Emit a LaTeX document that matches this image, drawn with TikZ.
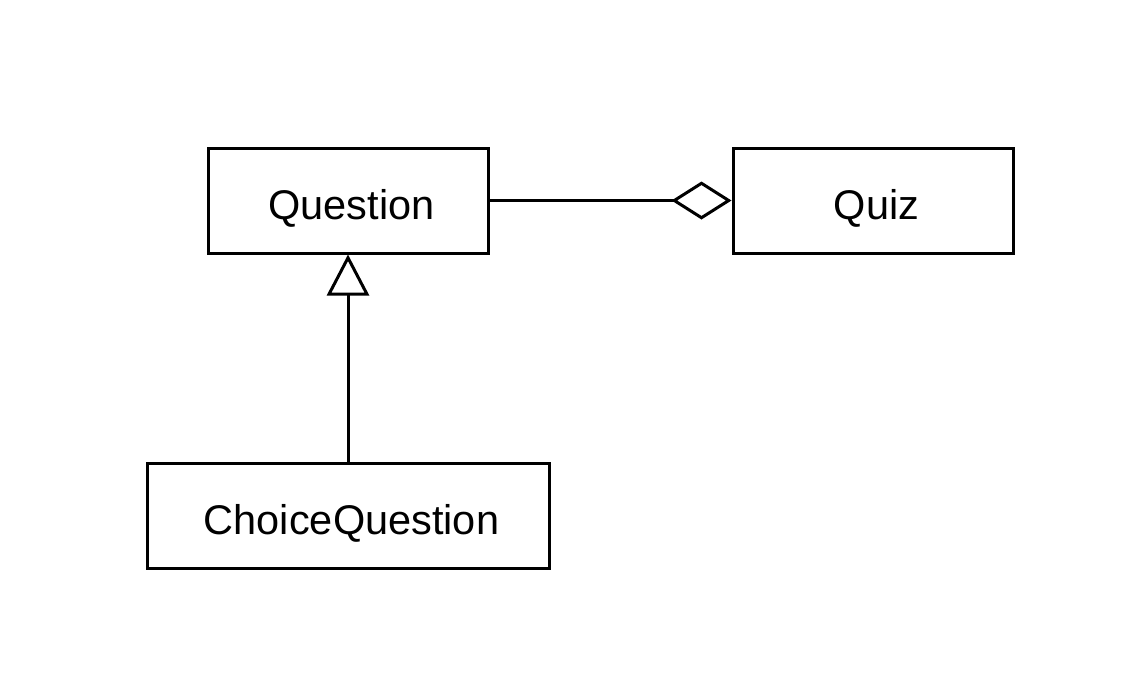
\documentclass[tikz,border=0pt]{standalone}
\usepackage{fontspec}
\setmainfont{Liberation Sans}
\usetikzlibrary{arrows.meta}
\newcommand{\clsname}[1]{\hspace*{7pt}#1}
\begin{document}
\begin{tikzpicture}[x=1pt,y=-1pt,
  cls/.style={draw,line width=3pt,minimum height=105pt,inner sep=0pt,
    text height=40pt,text depth=3pt,font=\fontsize{41.5}{48}\selectfont},
  link/.style={line width=3pt},
  aggregation/.style={link,{Diamond[open,length=60pt,width=38pt,line join=miter]}-},
  inherit/.style={link,-{Triangle[open,length=41pt,width=42pt,line join=miter]}}]
\useasboundingbox (0,0) rectangle (1136,678);
\fill[white] (0,0) rectangle (1136,678);
\node[cls,minimum width=280pt] (question) at (348,200.5) {\clsname{Question}};
\node[cls,minimum width=280pt] (quiz) at (873,200.5) {\clsname{Quiz}};
\node[cls,minimum width=402pt] (choice) at (348,515.5) {\clsname{ChoiceQuestion}};
\draw[aggregation] (quiz.west) -- (question.east);
\draw[inherit] (choice.north) -- (question.south);
\end{tikzpicture}
\end{document}
